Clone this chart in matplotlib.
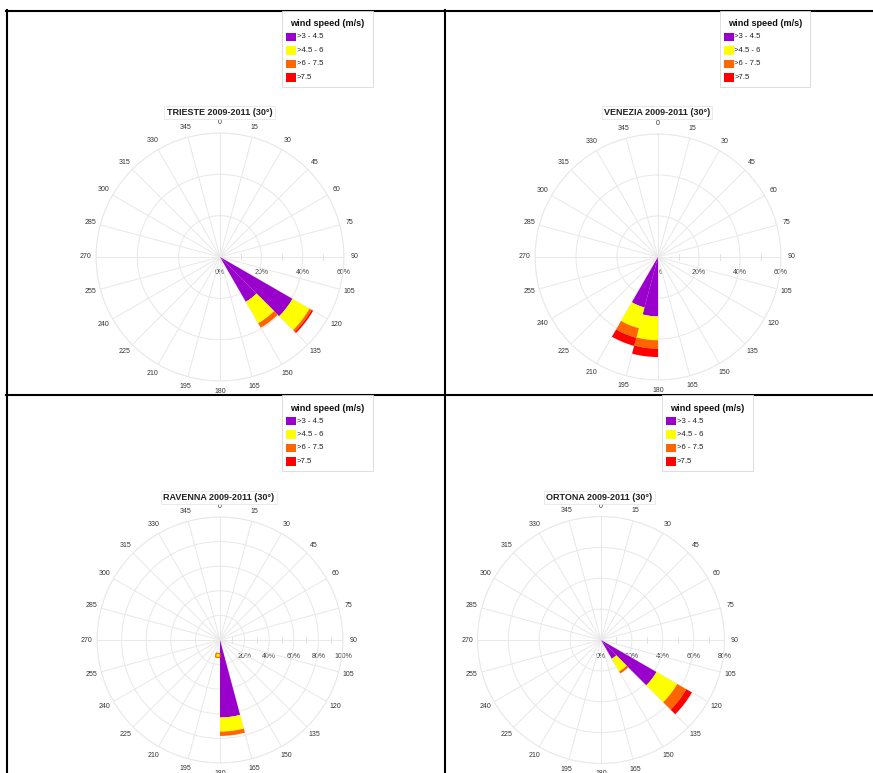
import numpy as np
import matplotlib
matplotlib.use("Agg")
import matplotlib.pyplot as plt
import matplotlib.transforms as mtransforms
from matplotlib.lines import Line2D
from matplotlib.patches import Rectangle

plt.rcParams['font.family'] = ['Liberation Sans', 'DejaVu Sans']

# ---- data ----
speed_bins = ['>3 - 4.5', '>4.5 - 6', '>6 - 7.5', '>7.5']
bin_colors = ['#9900cc', '#ffff00', '#ff6600', '#ff0000']
stations = ['TRIESTE', 'VENEZIA', 'RAVENNA', 'ORTONA']
period = '2009-2011 (30°)'
sector_width = 15
dir_labels = list(range(0, 360, 15))

# sector centres (deg, clockwise from north) and stacked % per speed bin
trieste_dirs = [127.5, 142.5]
trieste_vals = [[40.5, 9.5, 1.2, 0.8], [25.0, 12.0, 2.5, 0.0]]
venezia_dirs = [187.5, 202.5]
venezia_vals = [[29.0, 11.6, 4.1, 4.1], [25.5, 10.5, 4.8, 4.1]]
ravenna_dirs = [172.5]
ravenna_vals = [[63.0, 11.5, 3.5, 0.0]]
ortona_dirs = [127.5, 142.5]
ortona_vals = [[41.5, 15.5, 6.8, 4.2], [14.0, 9.5, 1.5, 0.0]]
# small isolated piece in the Ravenna rose (dir, bottom %, height %)
ravenna_extra = [187.5, 11.0, 3.2]

r_max = [60, 60, 100, 80]
r_step = 20

all_dirs = [trieste_dirs, venezia_dirs, ravenna_dirs, ortona_dirs]
all_vals = [trieste_vals, venezia_vals, ravenna_vals, ortona_vals]

# ---- layout (pixels) ----
W, H = 873, 773
centers = [(220, 257), (658, 257), (220, 640), (601, 640)]
radii = [124, 123, 123, 123.5]
title_y = [112.7, 112.7, 497.3, 497.3]
title_x = [219.5, 657, 219, 599.5]
legend_x = [282, 719.5, 282, 662]
legend_y = [11, 11, 395, 395]
legend_w, legend_h = 90.5, 76


def fx(x):
    return x / W


def fy(y):
    return 1 - y / H


fig = plt.figure(figsize=(W / 100, H / 100), dpi=100)
fig.patch.set_facecolor('white')

grid_col = '#e8e8e8'

for i, name in enumerate(stations):
    cx, cy = centers[i]
    R = radii[i]
    rm = r_max[i]
    ax = fig.add_axes([(cx - R) / W, (H - cy - R) / H, 2 * R / W, 2 * R / H],
                      projection='polar')
    ax.set_theta_zero_location('N')
    ax.set_theta_direction(-1)
    ax.set_ylim(0, rm)
    ax.set_xticks(np.radians(dir_labels))
    ax.set_xticklabels([])
    ax.set_yticks(np.arange(r_step, rm + 1, r_step))
    ax.set_yticklabels([])
    ax.grid(True, color=grid_col, linewidth=0.7)
    ax.spines['polar'].set_color(grid_col)
    ax.spines['polar'].set_linewidth(0.7)
    ax.tick_params(length=0)
    ax.set_facecolor('none')

    # direction labels
    for a in dir_labels:
        ax.text(np.radians(a), rm * 1.083, str(a), ha='center', va='center',
                fontsize=5, color='#333333')

    # radial labels, shifted below the 90 spoke
    trans = mtransforms.offset_copy(ax.transData, fig=fig, x=0, y=-16, units='dots')
    for r in np.arange(0, rm + 1, r_step):
        ax.text(np.pi / 2, r, '%d%%' % r, transform=trans, ha='center',
                va='center', fontsize=5, color='#444444', zorder=1)

    # minor ticks on the 90 spoke
    for r in np.arange(r_step / 2, rm, r_step):
        px = cx + r / rm * R
        fig.add_artist(Line2D([fx(px), fx(px)], [fy(cy - 3), fy(cy + 3)],
                              color='#dddddd', lw=0.6))

    # stacked bars
    for d, vals in zip(all_dirs[i], all_vals[i]):
        bottom = 0
        for v, c in zip(vals, bin_colors):
            if v > 0:
                ax.bar(np.radians(d), v, width=np.radians(sector_width),
                       bottom=bottom, color=c, edgecolor='none', zorder=3)
            bottom += v
    if name == 'RAVENNA':
        d, b, h = ravenna_extra
        ax.bar(np.radians(d), h, width=np.radians(sector_width), bottom=b,
               color=bin_colors[1], edgecolor=bin_colors[2], linewidth=0.8,
               zorder=3)

    # title
    fig.text(fx(title_x[i]), fy(title_y[i]), '%s %s' % (name, period),
             ha='center', va='center', fontsize=6.5, fontweight='bold',
             color='#222222',
             bbox=dict(boxstyle='square,pad=0.25', fc='white', ec='#e2e2e2', lw=0.5))

    # legend
    lx, ly = legend_x[i], legend_y[i]
    fig.patches.append(Rectangle((fx(lx), fy(ly + legend_h)), legend_w / W,
                                 legend_h / H, transform=fig.transFigure,
                                 fc='white', ec='#d8d8d8', lw=0.6, zorder=5))
    fig.text(fx(lx + legend_w / 2), fy(ly + 13), 'wind speed (m/s)',
             ha='center', va='center', fontsize=6.6, fontweight='bold',
             color='#111111', zorder=6)
    for k, (lab, c) in enumerate(zip(speed_bins, bin_colors)):
        ry = ly + 26 + k * 13.4
        fig.patches.append(Rectangle((fx(lx + 4), fy(ry + 4.3)), 10 / W, 8.6 / H,
                                     transform=fig.transFigure, fc=c, ec='none',
                                     zorder=6))
        fig.text(fx(lx + 15), fy(ry), lab, ha='left', va='center',
                 fontsize=5.6, color='#222222', zorder=6)

# panel borders
lw = 1.5
fig.add_artist(Line2D([fx(6), fx(W)], [fy(11), fy(11)], color='black', lw=lw))
fig.add_artist(Line2D([fx(6), fx(W)], [fy(395), fy(395)], color='black', lw=lw))
fig.add_artist(Line2D([fx(7), fx(7)], [fy(10), fy(H)], color='black', lw=lw))
fig.add_artist(Line2D([fx(445), fx(445)], [fy(10), fy(H)], color='black', lw=lw))

fig.savefig('out.png', dpi=100, facecolor='white')
